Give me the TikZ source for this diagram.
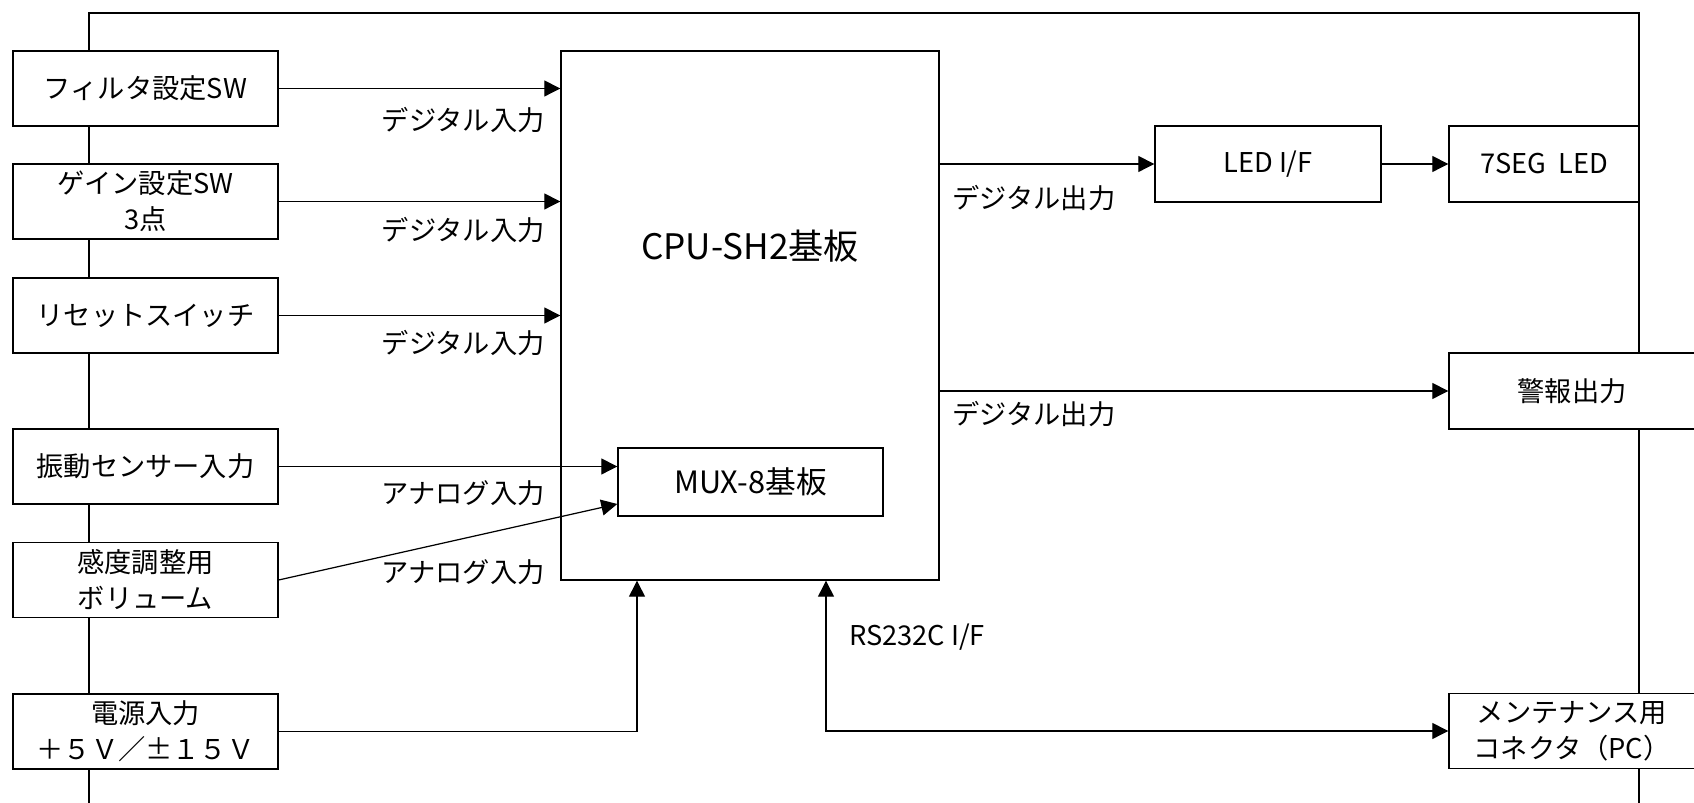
\documentclass[tikz,border=0pt]{standalone}
\usepackage{fontspec}
\setmainfont{Noto Sans CJK JP}
\usetikzlibrary{arrows.meta,positioning}

\begin{document}
\begin{tikzpicture}[
    >={Triangle[length=0.32cm,width=0.32cm]},
    blk/.style={
        draw,
        line width=0.8pt,
        fill=white,
        align=center,
        inner sep=0pt,
        font=\fontsize{15.5}{20.5}\selectfont
    },
    conn/.style={->, line width=0.7pt},
    lbl/.style={inner sep=0pt, font=\fontsize{15.5}{20}\selectfont}
]

\useasboundingbox (0,0) rectangle (33.88,16.06);

% Outer frame
\coordinate (fbl) at (1.78,0);
\coordinate (ftl) at (1.78,15.8);
\coordinate (ftr) at (32.78,15.8);
\coordinate (fbr) at (32.78,0);
\draw[line width=0.6pt] (fbl) -- (ftl) -- (ftr) -- (fbr);

% Input boxes
\node[blk, minimum width=5.3cm, minimum height=1.5cm] (fsw) at (2.91,14.29) {フィルタ設定SW};
\node[blk, minimum width=5.3cm, minimum height=1.5cm] (gsw) at (2.91,12.03) {ゲイン設定SW\\3点};
\node[blk, minimum width=5.3cm, minimum height=1.5cm] (rst) at (2.91,9.75) {リセットスイッチ};
\node[blk, minimum width=5.3cm, minimum height=1.5cm] (vib) at (2.91,6.73) {振動センサー入力};
\node[blk, minimum width=5.3cm, minimum height=1.5cm] (vol) at (2.91,4.46) {感度調整用\\ボリューム};
\node[blk, minimum width=5.3cm, minimum height=1.5cm] (pwr) at (2.91,1.43) {電源入力\\＋５Ｖ／±１５Ｖ};

% Main board
\node[blk, minimum width=7.56cm, minimum height=10.58cm] (cpu) at (15.0,9.75) {};
\node[font=\fontsize{20}{24}\selectfont] (cputxt) at (15.0,11.14) {CPU-SH2基板};
\node[blk, minimum width=5.3cm, minimum height=1.36cm, font=\fontsize{17.5}{20}\selectfont] (mux) at (15.01,6.42) {MUX-8基板};

% Output boxes
\node[blk, minimum width=4.52cm, minimum height=1.52cm] (led) at (25.36,12.78) {LED I/F};
\node[blk, minimum width=3.8cm, minimum height=1.52cm] (seg) at (30.88,12.78) {7SEG\ \ LED};
\node[blk, minimum width=4.92cm, minimum height=1.52cm] (alarm) at (31.44,8.24) {警報出力};
\node[blk, minimum width=4.92cm, minimum height=1.5cm] (maint) at (31.44,1.44) {メンテナンス用\\コネクタ（PC）};

% Arrows
\draw[conn] (fsw) -- (fsw -| cpu.west);
\draw[conn] (gsw) -- (gsw -| cpu.west);
\draw[conn] (rst) -- (rst -| cpu.west);
\draw[conn] (vib) -- (vib -| mux.west);
\draw[conn] (vol.east) -- ([yshift=-0.44cm]mux.west);
\draw[conn] (pwr.east) -| ([xshift=-2.26cm]cpu.south);
\draw[<->, line width=0.7pt] ([xshift=1.52cm]cpu.south) |- (maint.west);
\draw[conn] (cpu.east |- led.west) -- (led.west);
\draw[conn] (led) -- (seg);
\draw[conn] (cpu.east |- alarm.west) -- (alarm.west);

% Labels
\node[lbl, anchor=east] (din1) at (10.9,13.66) {デジタル入力};
\node[lbl, anchor=east] (din2) at (10.9,11.46) {デジタル入力};
\node[lbl, anchor=east] (din3) at (10.9,9.2) {デジタル入力};
\node[lbl, anchor=east] (ain1) at (10.9,6.2) {アナログ入力};
\node[lbl, anchor=east] (ain2) at (10.9,4.62) {アナログ入力};
\node[lbl, anchor=west] (dout1) at (19.04,12.1) {デジタル出力};
\node[lbl, anchor=west] (dout2) at (19.04,7.78) {デジタル出力};
\node[lbl, anchor=west] (rs) at (16.98,3.32) {RS232C I/F};
\end{tikzpicture}
\end{document}
